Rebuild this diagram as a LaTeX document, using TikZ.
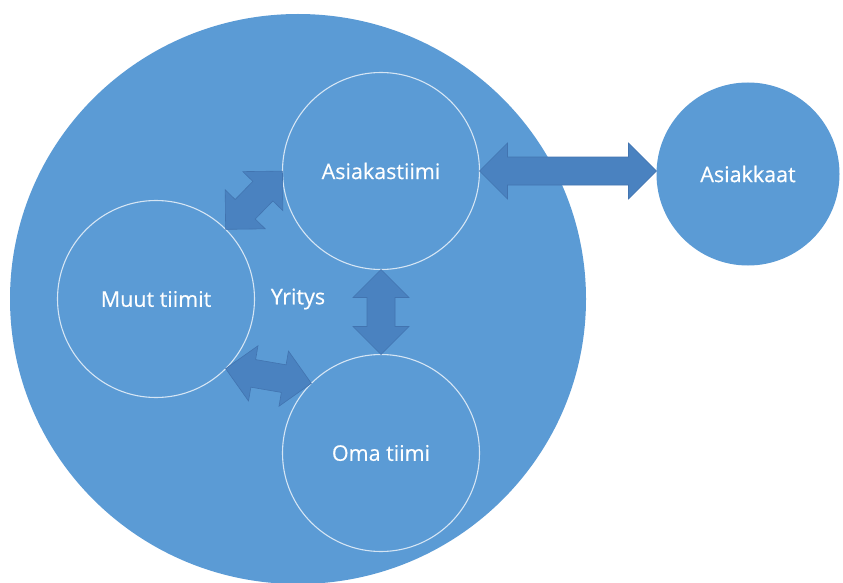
\documentclass[tikz,border=0pt]{standalone}
\usepackage{fontspec}
\setmainfont{Open Sans}
\newfontfamily\lblfont{Open Sans}[FakeBold=0.6]
\usetikzlibrary{calc,shapes.geometric}
\definecolor{blueA}{RGB}{91,155,213}
\definecolor{arrowF}{RGB}{74,130,192}
\definecolor{arrowD}{RGB}{66,116,176}
\tikzset{
  txt/.style={text=white, font=\lblfont\fontsize{21.5}{25}\selectfont},
  company/.style={ellipse, fill=blueA, minimum width=576pt, minimum height=570pt, inner sep=0pt, outer sep=0pt},
  team/.style={circle, fill=blueA, draw=white, draw opacity=0.75, line width=1.1pt, minimum size=197pt, inner sep=0pt, outer sep=0pt, txt},
  client/.style={circle, fill=blueA, minimum size=183pt, inner sep=0pt, outer sep=0pt, txt},
  lbl/.style={txt, inner sep=0pt},
  barrow/.style={fill=arrowF, draw=arrowD, line width=0.6pt, line join=miter}
}
\newcommand\blockarrow[2]{%
  \filldraw[barrow] let \p1=#1, \p2=#2,
    \n1={atan2(\y2-\y1,\x2-\x1)}, \n2={veclen(\x2-\x1,\y2-\y1)} in
    [shift={(\p1)}, rotate=\n1]
    (0pt,0pt) -- (28pt,28pt) -- (28pt,14pt) -- ({\n2-28pt},14pt) -- ({\n2-28pt},28pt)
    -- (\n2,0pt) -- ({\n2-28pt},-28pt) -- ({\n2-28pt},-14pt) -- (28pt,-14pt) -- (28pt,-28pt) -- cycle;}
\begin{document}
\begin{tikzpicture}[x=1pt,y=-1pt]
\useasboundingbox (0,0) rectangle (843,583);
\fill[white] (0,0) rectangle (843,583);
\node[company] (yr) at (298,299) {};
\node[lbl] (yritys) at (298,299) {Yritys};
\node[team] (asiak) at (381,171) {Asiakastiimi};
\node[team] (muut) at (156,299) {Muut tiimit};
\node[team] (oma) at (381,453) {Oma tiimi};
\node[client] (asiakkaat) at (748,174) {Asiakkaat};
\blockarrow{(asiak.east)}{(asiak.east -| asiakkaat.west)}
\blockarrow{(asiak.south)}{(oma.north)}
\blockarrow{(muut.north east)}{(asiak.west)}
\blockarrow{(muut.south east)}{(oma.north west)}
\end{tikzpicture}
\end{document}
